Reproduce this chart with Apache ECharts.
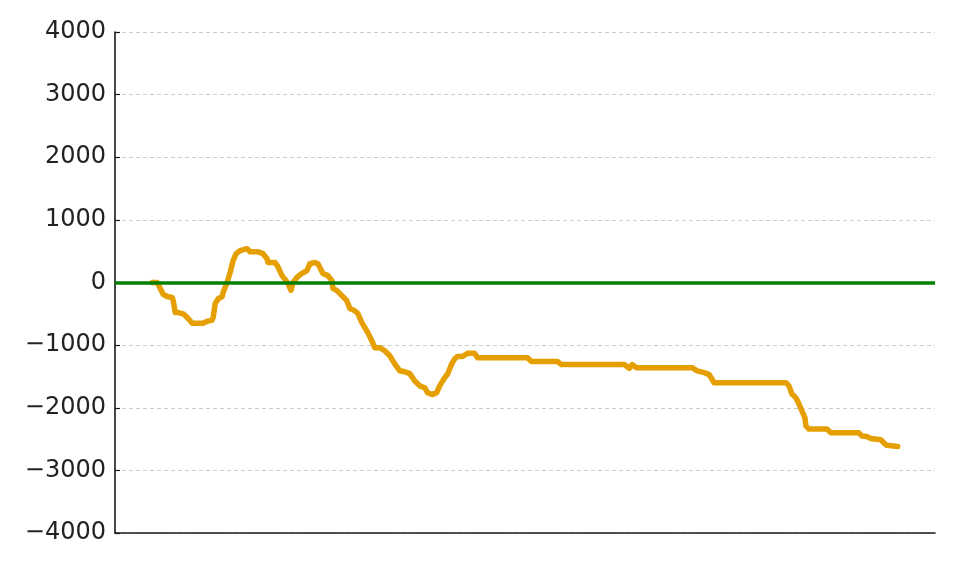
<!DOCTYPE html>
<html>
<head>
<meta charset="utf-8">
<script src="https://cdn.jsdelivr.net/npm/echarts@6/dist/echarts.min.js"></script>
<style>
html,body{margin:0;padding:0;background:#fff;}
#chart{width:960px;height:570px;}
</style>
</head>
<body>
<div id="chart"></div>
<script>
// x positions (arbitrary step units) of traced vertices
var steps = [0,5,8,11,15,20,21,23,26,31,
             36,40,51,55,60,61,63,66,70,71,
             73,75,78,81,84,88,95,98,106,111,
             115,116,123,126,130,133,136,139,141,145,
             150,155,158,163,166,171,176,180,181,185,
             190,195,198,203,206,210,213,216,220,223,
             228,233,238,243,248,253,258,263,268,273,
             276,281,285,288,293,296,300,303,306,311,
             316,323,326,376,380,406,410,473,478,481,
             485,541,546,553,558,563,635,638,641,645,
             648,651,654,655,658,676,680,708,711,716,
             720,730,733,736,747];
// cumulative values
var values = [0,0,-96,-190,-224,-240,-290,-480,-480,-500,
              -576,-650,-650,-620,-600,-560,-340,-260,-225,-160,
              -80,0,160,350,460,510,540,490,490,460,
              380,320,320,250,110,50,-15,-125,0,80,
              145,190,300,320,300,145,110,30,-95,-130,
              -210,-290,-415,-450,-495,-640,-720,-800,-930,-1040,
              -1040,-1090,-1170,-1300,-1410,-1425,-1455,-1570,-1650,-1680,
              -1760,-1790,-1760,-1650,-1520,-1460,-1300,-1220,-1180,-1180,
              -1130,-1130,-1200,-1200,-1260,-1260,-1310,-1310,-1370,-1310,
              -1360,-1360,-1410,-1440,-1470,-1600,-1600,-1650,-1780,-1840,
              -1940,-2050,-2160,-2290,-2340,-2340,-2400,-2400,-2450,-2460,
              -2490,-2510,-2560,-2600,-2620];
var yTicks = [-4000,-3000,-2000,-1000,0,1000,2000,3000,4000];

var pts = steps.map(function(s,i){return [s, values[i]];});
var chart = echarts.init(document.getElementById('chart'), null, {renderer:'canvas'});
chart.setOption({
  animation:false,
  backgroundColor:'#ffffff',
  grid:{left:115,right:25,top:32,bottom:37,containLabel:false},
  xAxis:{
    type:'value',
    min:function(v){return v.min-0.05*(v.max-v.min);},
    max:function(v){return v.max+0.05*(v.max-v.min);},
    axisLine:{show:true,onZero:false,lineStyle:{color:'#1a1a1a',width:1.6}},
    axisTick:{show:false},
    axisLabel:{show:false},
    splitLine:{show:false}
  },
  yAxis:{
    type:'value',
    min:yTicks[0],max:yTicks[yTicks.length-1],interval:1000,
    axisLine:{show:true,onZero:false,lineStyle:{color:'#1a1a1a',width:1.6}},
    axisTick:{show:true,inside:true,length:5,lineStyle:{color:'#1a1a1a',width:1.2}},
    axisLabel:{
      fontFamily:'DejaVu Sans',fontSize:24,color:'#222222',margin:9,
      padding:[5,0,0,0],
      formatter:function(v){return String(v).replace('-','\u2212');}
    },
    splitLine:{show:true,lineStyle:{color:'#cccccc',type:[4,3],width:1}}
  },
  series:[
    {
      type:'line',data:pts,z:2,
      showSymbol:false,symbol:'none',
      lineStyle:{color:'#E69F00',width:5.5,join:'round',cap:'round'},
      silent:true
    },
    {
      type:'line',data:pts,z:3,symbol:'none',
      lineStyle:{opacity:0},silent:true,
      markLine:{
        silent:true,symbol:['none','none'],label:{show:false},
        lineStyle:{color:'#008000',width:3.5,type:'solid'},
        data:[{yAxis:0}]
      }
    }
  ]
});
</script>
</body>
</html>
